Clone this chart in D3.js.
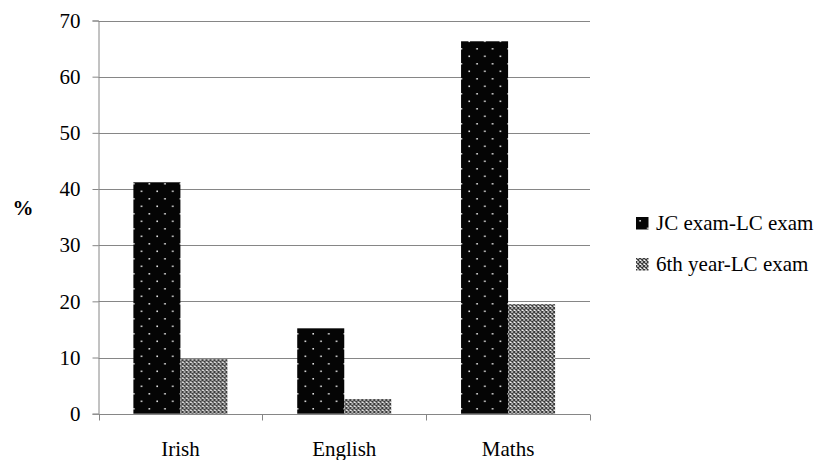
<!DOCTYPE html>
<html><head><meta charset="utf-8">
<script src="https://cdn.jsdelivr.net/npm/d3@7"></script>
<style>
html,body{margin:0;padding:0;background:#fff;}
svg{display:block;font-family:"Liberation Serif","Times New Roman",serif;}
</style></head>
<body>
<svg id="c" width="825" height="460"></svg>
<script>
const categories = ["Irish", "English", "Maths"];
const seriesNames = ["JC exam-LC exam", "6th year-LC exam"];
const jcValues = [41.2, 15.2, 66.3];
const sixthValues = [9.7, 2.6, 19.5];
const yTicks = [0, 10, 20, 30, 40, 50, 60, 70];
const yTitle = "%";

(function(){
const svg = d3.select("#c");
const defs = svg.append("defs");

// dotted black pattern
const pd = defs.append("pattern").attr("id","dots").attr("patternUnits","userSpaceOnUse")
  .attr("width",15.6).attr("height",15);
pd.append("rect").attr("width",15.6).attr("height",15).attr("fill","#050505");
pd.append("rect").attr("x",3.3).attr("y",3).attr("width",1.6).attr("height",1.6).attr("fill","#e0e0e0");
pd.append("rect").attr("x",11.1).attr("y",10.5).attr("width",1.6).attr("height",1.6).attr("fill","#e0e0e0");

// crosshatch pattern
const pc = defs.append("pattern").attr("id","hatch").attr("patternUnits","userSpaceOnUse")
  .attr("width",4).attr("height",4);
pc.append("rect").attr("width",4).attr("height",4).attr("fill","#fff");
pc.append("path").attr("d","M0,0L4,4M4,0L0,4").attr("stroke","#3a3a3a").attr("stroke-width",1.3);

const fills = ["url(#dots)", "url(#hatch)"];

const pLeft = 98.5, pRight = 590, pTop = 20.5, pBottom = 413.7;
const y = d3.scaleLinear().domain([0, 70]).range([pBottom, pTop]);
const x0 = d3.scaleBand().domain(categories).range([pLeft, pRight]).padding(0);
const x1 = d3.scaleBand().domain(seriesNames).range([0, x0.bandwidth()]).paddingInner(0).paddingOuter(0.742);

const gray = "#868686";

// gridlines
svg.append("g").selectAll("line").data(yTicks.filter(t => t > 0)).join("line")
  .attr("x1", pLeft).attr("x2", pRight)
  .attr("y1", d => Math.round(y(d)) + 0.5).attr("y2", d => Math.round(y(d)) + 0.5)
  .attr("stroke", gray).attr("stroke-width", 1);

// bars
const data = categories.map((c, i) => ({cat: c, vals: [jcValues[i], sixthValues[i]]}));
const groups = svg.append("g").selectAll("g").data(data).join("g")
  .attr("transform", d => `translate(${x0(d.cat)},0)`);
groups.selectAll("rect").data(d => d.vals.map((v, j) => ({v, s: seriesNames[j], j}))).join("rect")
  .attr("x", d => x1(d.s)).attr("width", x1.bandwidth())
  .attr("y", d => y(d.v)).attr("height", d => y(0) - y(d.v))
  .attr("fill", d => fills[d.j]);

// y axis
const yAxis = d3.axisLeft(y).tickValues(yTicks).tickSize(6).tickPadding(12);
const gy = svg.append("g").attr("transform", `translate(${pLeft},0)`).call(yAxis);
gy.select(".domain").attr("stroke", gray);
gy.selectAll(".tick line").attr("stroke", gray);
gy.selectAll(".tick text").attr("font-size", 21).attr("fill", "#000")
  .attr("font-family", "'Liberation Serif','Times New Roman',serif");

// x axis
const xEdge = d3.scaleLinear().domain([0, categories.length]).range([pLeft, pRight]);
const gx = svg.append("g").attr("transform", `translate(0,${Math.round(pBottom)+0.5})`);
gx.append("line").attr("x1", pLeft).attr("x2", pRight).attr("stroke", gray);
gx.selectAll(".tk").data(d3.range(categories.length + 1)).join("line").attr("class","tk")
  .attr("x1", d => Math.round(xEdge(d)) + 0.5).attr("x2", d => Math.round(xEdge(d)) + 0.5)
  .attr("y1", 0).attr("y2", 6).attr("stroke", gray);
gx.selectAll("text").data(categories).join("text")
  .attr("x", d => x0(d) + x0.bandwidth() / 2).attr("y", 41)
  .attr("text-anchor", "middle").attr("font-size", 21).attr("fill", "#000").text(d => d);

// y title
svg.append("text").attr("x", 23).attr("y", 215).attr("text-anchor", "middle")
  .attr("font-size", 21).attr("font-weight", "bold").text(yTitle);

// legend
const lg = svg.append("g").selectAll("g").data(seriesNames).join("g")
  .attr("transform", (d, i) => `translate(636,${217 + i * 41})`);
lg.append("rect").attr("width", 12.5).attr("height", 12.5).attr("fill", (d, i) => fills[i]);
lg.append("text").attr("x", 20).attr("y", 13).attr("font-size", 21).attr("fill", "#000").text(d => d);
})();
</script>
</body></html>
